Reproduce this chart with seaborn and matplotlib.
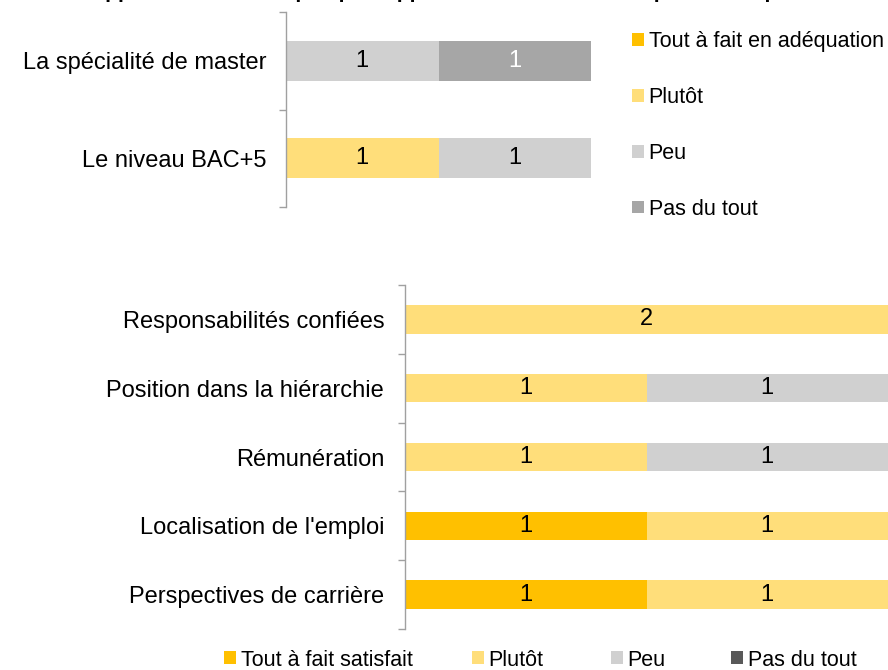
import matplotlib
matplotlib.use("Agg")
import matplotlib.pyplot as plt
import seaborn as sns
import pandas as pd
import numpy as np
from matplotlib.patches import Patch

sns.set_theme(style="white")
plt.rcParams['font.family'] = ['Liberation Sans', 'DejaVu Sans']
plt.rcParams['text.color'] = 'black'
plt.rcParams['ytick.color'] = 'black'
plt.rcParams['ytick.labelcolor'] = 'black'

# ---- data ----
top_categories = ["La spécialité de master", "Le niveau BAC+5"]
top_series = ["Tout à fait en adéquation", "Plutôt", "Peu", "Pas du tout"]
top_tout = [0, 0]
top_plutot = [0, 1]
top_peu = [1, 1]
top_pas = [1, 0]

bot_categories = ["Responsabilités confiées", "Position dans la hiérarchie",
                  "Rémunération", "Localisation de l'emploi", "Perspectives de carrière"]
bot_series = ["Tout à fait satisfait", "Plutôt", "Peu", "Pas du tout"]
bot_tout = [0, 0, 0, 1, 1]
bot_plutot = [2, 1, 1, 1, 1]
bot_peu = [0, 1, 1, 0, 0]
bot_pas = [0, 0, 0, 0, 0]

top_colors = ["#FFC000", "#FFDE7A", "#D0D0D0", "#A6A6A6"]
bot_colors = ["#FFC000", "#FFDE7A", "#D0D0D0", "#595959"]
top_text_colors = ["black", "black", "black", "white"]
bot_text_colors = ["black", "black", "black", "white"]

W, H = 888, 670
fig = plt.figure(figsize=(W / 100, H / 100), dpi=100)


def px_axes(x0, y0, x1, y1):
    return fig.add_axes([x0 / W, 1 - y1 / H, (x1 - x0) / W, (y1 - y0) / H])


def stacked(ax, cats, names, values, colors, tcolors, bar_h, fs, pad):
    vals = np.array(values, dtype=float)
    cum = np.cumsum(vals, axis=0)
    # draw cumulative totals, widest first, so segments appear stacked
    for i in range(len(names) - 1, -1, -1):
        df = pd.DataFrame({"cat": cats, "val": cum[i]})
        sns.barplot(data=df, y="cat", x="val", orient="h", color=colors[i],
                    saturation=1, width=bar_h, ax=ax, linewidth=0, order=cats)
    for i in range(len(names)):
        for j, c in enumerate(cats):
            v = vals[i, j]
            if v > 0:
                ax.text(cum[i, j] - v / 2, j, f"{int(v)}", ha="center", va="center",
                        fontsize=fs, color=tcolors[i])
    n = len(cats)
    ax.set_xlim(0, 2)
    ax.set_ylim(n - 0.5, -0.5)
    ax.set_xlabel("")
    ax.set_ylabel("")
    ax.set_xticks([])
    ax.set_yticks(range(n))
    ax.set_yticklabels(cats, fontsize=17, color="black")
    ax.set_yticks(np.arange(n + 1) - 0.5, minor=True)
    ax.tick_params(axis="y", which="major", length=0, pad=pad)
    ax.tick_params(axis="y", which="minor", length=5, color="#A0A0A0", width=1,
                   direction="out", left=True)
    for s in ["top", "right", "bottom"]:
        ax.spines[s].set_visible(False)
    ax.spines["left"].set_color("#A0A0A0")
    ax.spines["left"].set_linewidth(1)
    ax.set_facecolor("none")


ax1 = px_axes(286, 12, 591, 207)
stacked(ax1, top_categories, top_series, [top_tout, top_plutot, top_peu, top_pas],
        top_colors, top_text_colors, 0.41, 17, 14)

ax2 = px_axes(405, 285, 888, 629)
stacked(ax2, bot_categories, bot_series, [bot_tout, bot_plutot, bot_peu, bot_pas],
        bot_colors, bot_text_colors, 0.41, 17, 15)

h1 = [Patch(facecolor=c, edgecolor="none") for c in top_colors]
fig.legend(h1, top_series, loc="upper left", bbox_to_anchor=(632 / W, 1 - 31 / H),
           frameon=False, fontsize=15.5, handlelength=0.55, handleheight=0.55,
           handletextpad=0.22, labelspacing=1.62, borderaxespad=0, borderpad=0)

# bottom legend: one entry per legend, placed like the reference
bot_leg_x = [224, 472, 611, 731]
for name, col, x in zip(bot_series, bot_colors, bot_leg_x):
    fig.legend([Patch(facecolor=col, edgecolor="none")], [name], loc="center left",
               bbox_to_anchor=(x / W, 1 - 660 / H), frameon=False, fontsize=15.5,
               handlelength=0.55, handleheight=0.55, handletextpad=0.22,
               borderaxespad=0, borderpad=0)

fig.text(440 / W, 1 + 1.5 / H, "Appréciation de l'emploi par rapport à la formation et au poste occupé",
         ha="center", va="baseline", fontsize=15, fontweight="bold")

fig.savefig("out.png", dpi=100)
